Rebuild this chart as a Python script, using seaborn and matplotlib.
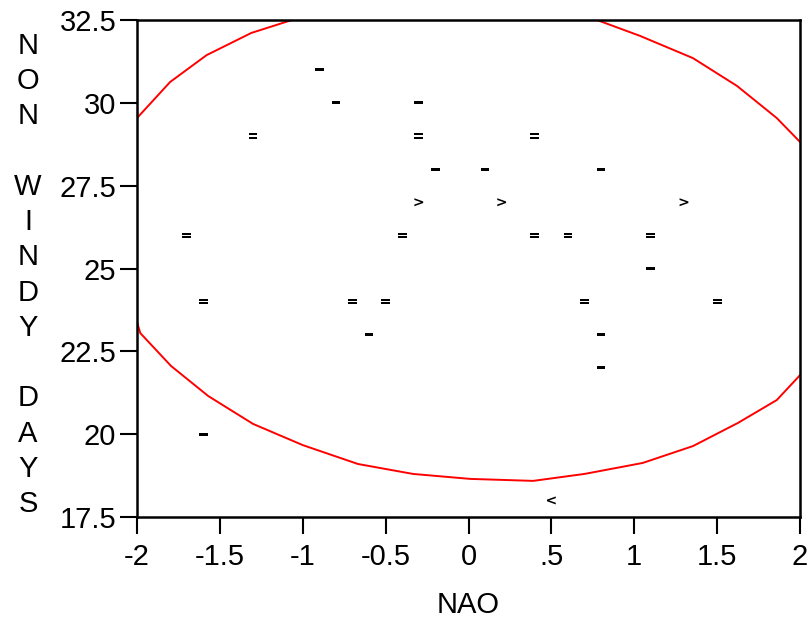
import numpy as np
import pandas as pd
import matplotlib
matplotlib.use('Agg')
import matplotlib.pyplot as plt
from matplotlib.path import Path
import seaborn as sns

# points: NAO index vs non windy days, symbol is the glyph used in the original
nao = [-0.9, -0.8, -0.3, -1.3, -0.3, 0.4, -0.2, 0.1, 0.8,
       -0.3, 0.2, 1.3, -1.7, -0.4, 0.4, 0.6, 1.1, 1.1,
       -1.6, -0.7, -0.5, 0.7, 1.5, -0.6, 0.8, 0.8, -1.6, 0.5]
days = [31, 30, 30, 29, 29, 29, 28, 28, 28,
        27, 27, 27, 26, 26, 26, 26, 26, 25,
        24, 24, 24, 24, 24, 23, 23, 22, 20, 18]
symbol = ['dash', 'dash', 'dash', 'eq', 'eq', 'eq', 'dash', 'dash', 'dash',
          'gt', 'gt', 'gt', 'eq', 'eq', 'eq', 'eq', 'eq', 'dash',
          'eq', 'eq', 'eq', 'eq', 'eq', 'dash', 'dash', 'dash', 'dash', 'lt']

# red ellipse (three visible pieces)
ell_ul_x = [-2.0, -1.80, -1.58, -1.31, -1.065]
ell_ul_y = [29.54, 30.63, 31.44, 32.11, 32.5]
ell_ur_x = [0.775, 1.035, 1.354, 1.62, 1.86, 2.0]
ell_ur_y = [32.5, 32.02, 31.35, 30.51, 29.54, 28.82]
ell_lo_x = [-2.0, -1.98, -1.795, -1.57, -1.30, -1.0, -0.667, -0.335, 0.01,
            0.39, 0.70, 1.05, 1.354, 1.626, 1.86, 2.0]
ell_lo_y = [23.38, 23.05, 22.06, 21.15, 20.31, 19.67, 19.1, 18.8, 18.65,
            18.59, 18.8, 19.13, 19.64, 20.34, 21.03, 21.78]

xticks = [-2, -1.5, -1, -0.5, 0, 0.5, 1, 1.5, 2]
xticklabels = ['-2', '-1.5', '-1', '-0.5', '0', '.5', '1', '1.5', '2']
yticks = [17.5, 20, 22.5, 25, 27.5, 30, 32.5]
yticklabels = ['17.5', '20', '22.5', '25', '27.5', '30', '32.5']

sns.set_theme(style='white')
plt.rcParams['font.family'] = ['Liberation Sans', 'DejaVu Sans']

df = pd.DataFrame({'nao': nao, 'days': days, 'symbol': symbol})

bar = Path([(-1, -0.35), (1, -0.35), (1, 0.35), (-1, 0.35), (-1, -0.35)],
           [Path.MOVETO, Path.LINETO, Path.LINETO, Path.LINETO, Path.CLOSEPOLY])
eq = Path([(-1, 0.15), (1, 0.15), (1, 0.6), (-1, 0.6), (-1, 0.15),
           (-1, -0.6), (1, -0.6), (1, -0.15), (-1, -0.15), (-1, -0.6)],
          [Path.MOVETO, Path.LINETO, Path.LINETO, Path.LINETO, Path.CLOSEPOLY] * 2)
markers = {'dash': bar, 'eq': eq, 'gt': r'$\mathbf{>}$', 'lt': r'$\mathbf{<}$'}

fig = plt.figure(figsize=(8.11, 6.19), dpi=100)
ax = fig.add_axes([137 / 811, 1 - 517 / 619, 663 / 811, 497 / 619])

sns.lineplot(x=ell_ul_x, y=ell_ul_y, sort=False, estimator=None, color='red', lw=1.4, ax=ax)
sns.lineplot(x=ell_ur_x, y=ell_ur_y, sort=False, estimator=None, color='red', lw=1.4, ax=ax)
sns.lineplot(x=ell_lo_x, y=ell_lo_y, sort=False, estimator=None, color='red', lw=1.4, ax=ax)

sns.scatterplot(data=df, x='nao', y='days', style='symbol', markers=markers,
                color='black', s=40, linewidth=0, legend=False, ax=ax, zorder=3)

ax.set_xlim(-2, 2)
ax.set_ylim(17.5, 32.5)
ax.set_xticks(xticks)
ax.set_xticklabels(xticklabels)
ax.set_yticks(yticks)
ax.set_yticklabels(yticklabels)
ax.tick_params(axis='both', direction='out', length=12, width=1.5, color='black',
               labelsize=21, labelcolor='black', pad=3, bottom=True, left=True)
ax.tick_params(axis='x', pad=7)
for sp in ax.spines.values():
    sp.set_color('black')
    sp.set_linewidth(1.8)

ax.set_xlabel('NAO', fontsize=21, color='black', labelpad=14)
ax.set_ylabel('')

ylab = '\n'.join(list('NON')) + '\n\n' + '\n'.join(list('WINDY')) + '\n\n' + '\n'.join(list('DAYS'))
fig.text(28 / 811, 1 - 275 / 619, ylab, fontsize=21, ha='center', va='center',
         linespacing=1.33, color='black')

fig.savefig('out.png', dpi=100)
